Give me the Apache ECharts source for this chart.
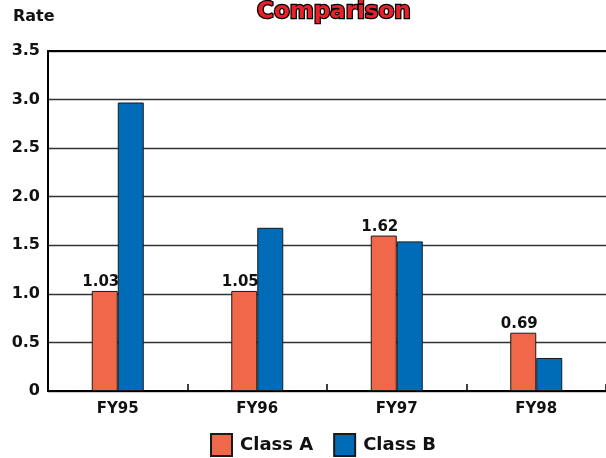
<!DOCTYPE html>
<html>
<head>
<meta charset="utf-8">
<script src="https://cdn.jsdelivr.net/npm/echarts@6/dist/echarts.min.js"></script>
<style>html,body{margin:0;padding:0;background:#fff}#c{width:606px;height:458px}</style>
</head>
<body>
<div id="c"></div>
<script>
var categories = ['FY95', 'FY96', 'FY97', 'FY98'];
var classA = [1.03, 1.03, 1.60, 0.60];
var classALabels = ['1.03', '1.05', '1.62', '0.69'];
var classB = [2.97, 1.68, 1.54, 0.34];
var yTicks = [0, 0.5, 1.0, 1.5, 2.0, 2.5, 3.0, 3.5];
var yTickLabels = ['0', '0.5', '1.0', '1.5', '2.0', '2.5', '3.0', '3.5'];

var F = 'DejaVu Sans';
var chart = echarts.init(document.getElementById('c'));
chart.setOption({
  animation: false,
  title: [
    { text: 'Comparison', left: 252, top: -4,
      textStyle: { fontFamily: F, fontWeight: 900, fontSize: 23, color: '#E8202A',
        textBorderColor: '#000', textBorderWidth: 2.5,
        textShadowColor: '#000', textShadowOffsetX: 2, textShadowOffsetY: 2, textShadowBlur: 0 } },
    { text: 'Rate', left: 8, top: 4,
      textStyle: { fontFamily: F, fontWeight: 'bold', fontSize: 16, color: '#111' } }
  ],
  legend: {
    left: 205, top: 428, itemWidth: 21, itemHeight: 22, itemGap: 20,
    icon: 'rect',
    textStyle: { fontFamily: F, fontWeight: 'bold', fontSize: 18, color: '#111', padding: [0, 0, 0, 3] },
    data: ['Class A', 'Class B']
  },
  grid: { left: 48, right: 0, top: 51, bottom: 67 },
  xAxis: [
    { type: 'category', data: categories,
      axisLine: { lineStyle: { color: '#000', width: 2 } },
      axisTick: { show: true, inside: true, length: 7, lineStyle: { color: '#000', width: 1.5 } },
      axisLabel: { margin: 11, fontFamily: F, fontWeight: 'bold', fontSize: 15, color: '#111' } },
    { type: 'category', data: categories, position: 'top',
      axisLine: { show: true, lineStyle: { color: '#000', width: 2 } },
      axisTick: { show: false }, axisLabel: { show: false } }
  ],
  yAxis: {
    type: 'value', min: 0, max: 3.5, interval: 0.5,
    axisLine: { show: true, lineStyle: { color: '#000', width: 2 } },
    axisTick: { show: false },
    splitLine: { lineStyle: { color: '#333', width: 1.3 } },
    axisLabel: { margin: 8, fontFamily: F, fontWeight: 'bold', fontSize: 16, color: '#111',
      padding: [0, 0, 6, 0],
      formatter: function (v) { var i = yTicks.indexOf(v); return i >= 0 ? yTickLabels[i] : ''; } }
  },
  series: [
    { name: 'Class A', type: 'bar', data: classA, barWidth: 26, barGap: '0%',
      itemStyle: { color: '#F0674A', borderColor: '#1a1a1a', borderWidth: 1 },
      label: { show: true, position: 'top', distance: 1, offset: [-4, 0],
        fontFamily: F, fontWeight: 'bold', fontSize: 15, color: '#111',
        formatter: function (p) { return classALabels[p.dataIndex]; } } },
    { name: 'Class B', type: 'bar', data: classB, barWidth: 26, barGap: '0%',
      itemStyle: { color: '#006BB6', borderColor: '#1a1a1a', borderWidth: 1 } }
  ]
});
</script>
</body>
</html>
